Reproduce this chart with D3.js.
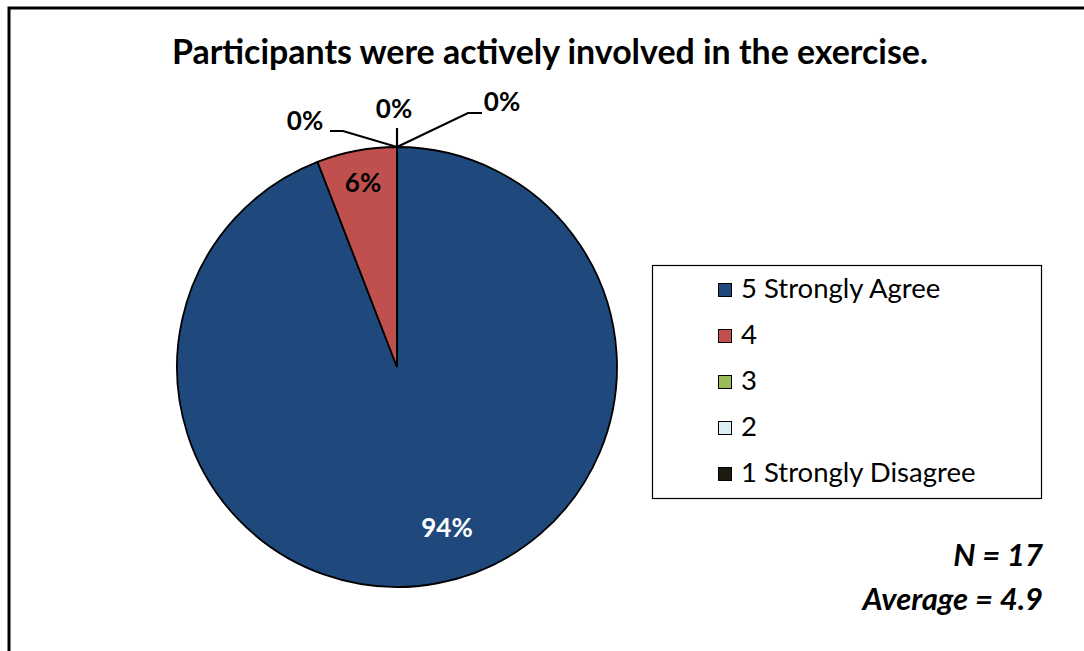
<!DOCTYPE html>
<html><head><meta charset="utf-8">
<script src="https://cdn.jsdelivr.net/npm/d3@7"></script>
<style>body{margin:0;background:#fff}svg{display:block}</style>
</head><body>
<svg id="c" width="1084" height="651"></svg>
<script>
const categories = ["5 Strongly Agree", "4", "3", "2", "1 Strongly Disagree"];
const counts = [16, 1, 0, 0, 0];
const colors = ["#1F497D", "#C0504D", "#9BBB59", "#DBEEF4", "#1D1B10"];
const title = "Participants were actively involved in the exercise.";
const notes = ["N = 17", "Average = 4.9"];

const svg = d3.select("#c");
const font = "Lato, 'Open Sans', sans-serif";

// frame
svg.append("path").attr("d","M9,652 L9,8 L1090,8").attr("fill","none").attr("stroke","#000").attr("stroke-width",3);

svg.append("text").attr("x",550).attr("y",55).attr("text-anchor","middle").attr("dominant-baseline","middle")
  .attr("font-family",font).attr("font-weight","bold").attr("font-size",34).text(title)
  .attr("textLength",756).attr("lengthAdjust","spacingAndGlyphs");

const cx = 397, cy = 367, r = 220;
const total = d3.sum(counts);
const pie = d3.pie().sort(null).value(d=>d)(counts);
const arc = d3.arc().innerRadius(0).outerRadius(r);
const g = svg.append("g").attr("transform",`translate(${cx},${cy})`);
g.selectAll("path").data(pie).join("path").attr("d",arc)
  .attr("fill",(d,i)=>colors[i]).attr("stroke","#000").attr("stroke-width",1.8);

const pct = v => Math.round(v/total*100) + "%";
const labelSize = 26;
const inPos = [[50,163],[-34,-182]];
pie.forEach((d,i)=>{
  if (d.value>0) {
    g.append("text").attr("x",inPos[i][0]).attr("y",inPos[i][1]).attr("text-anchor","middle")
      .attr("dominant-baseline","middle")
      .attr("font-family",font).attr("font-weight","bold").attr("font-size",labelSize)
      .attr("fill", i===0 ? "#fff" : "#000").text(pct(d.value));
  }
});
const zeroLabels = [
  {line:[[0,-r],[-54,-236],[-67,-236]], tx:-92, ty:-244},
  {line:[[0,-r],[0,-239]], tx:-3, ty:-256},
  {line:[[0,-r],[71,-254],[85,-254]], tx:105, ty:-263}
];
pie.forEach((d,i)=>{
  if (d.value===0) {
    const z = zeroLabels[i-2];
    g.append("path").attr("d",d3.line()(z.line)).attr("fill","none").attr("stroke","#000").attr("stroke-width",2.2);
    g.append("text").attr("x",z.tx).attr("y",z.ty).attr("text-anchor","middle").attr("dominant-baseline","middle")
      .attr("font-family",font).attr("font-weight","bold").attr("font-size",labelSize).text(pct(d.value));
  }
});

// legend
svg.append("rect").attr("x",652.5).attr("y",265.5).attr("width",389).attr("height",233)
  .attr("fill","#fff").attr("stroke","#000").attr("stroke-width",1.2);
const lg = svg.append("g");
categories.forEach((c,i)=>{
  const y = 291 + i*46;
  lg.append("rect").attr("x",718.5).attr("y",y-7.5).attr("width",13).attr("height",13)
    .attr("fill",colors[i]).attr("stroke","#000").attr("stroke-width",1);
  lg.append("text").attr("x",741).attr("y",y).attr("dominant-baseline","middle")
    .attr("font-family",font).attr("font-size",27.5).text(c);
});

notes.forEach((n,i)=>{
  svg.append("text").attr("x",1043).attr("y",566+i*44).attr("text-anchor","end")
    .attr("font-family",font).attr("font-weight","bold").attr("font-style","italic").attr("font-size",31).text(n);
});
</script>
</body></html>
